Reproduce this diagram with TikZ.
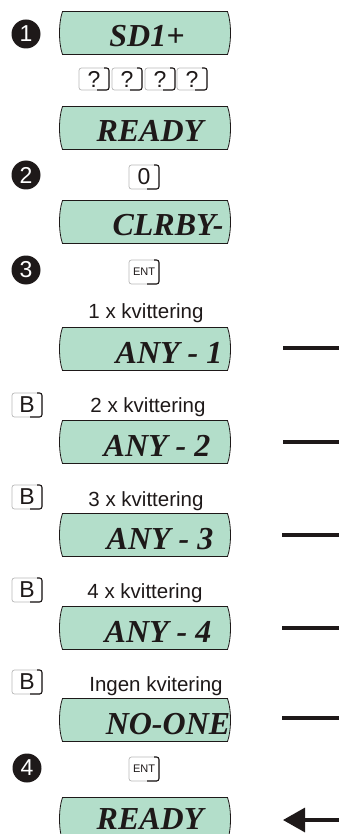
\documentclass[tikz,border=0pt]{standalone}
\usepackage{fontspec}
\setmainfont{Liberation Serif}
\setsansfont{Liberation Sans}
\usetikzlibrary{calc,arrows.meta}
\definecolor{lcd}{RGB}{179,222,202}
\definecolor{ink}{RGB}{30,25,25}
\begin{document}
\begin{tikzpicture}[x=1pt,y=-1pt,
  dispbox/.style={minimum width=172pt,minimum height=43pt,inner sep=0pt,outer sep=0pt},
  dispframe/.style={draw=ink,line width=0.8pt,fill=lcd},
  disptext/.style={anchor=base,inner sep=0pt,text=ink,font=\fontsize{32}{32}\selectfont\bfseries\itshape},
  keyb/.style={draw=gray!55,line width=0.7pt,rounded corners=2.5pt,fill=white,minimum width=30pt,minimum height=24pt,inner sep=0pt,outer sep=0pt,text=ink,font=\sffamily\fontsize{23}{23}\selectfont},
  enkey/.style={keyb,font=\sffamily\fontsize{11}{11}\selectfont},
  keyshade/.style={draw=ink,line width=1.1pt,rounded corners=2.5pt},
  bullet/.style={circle,fill=ink,minimum size=29pt,inner sep=0pt,text=white,font=\sffamily\fontsize{23}{23}\selectfont},
  lbl/.style={anchor=base,inner sep=0pt,text=ink,font=\sffamily\fontsize{20.5}{20.5}\selectfont},
  bar/.style={draw=ink,line width=3.2pt}]
\clip (0,0) rectangle (339,834);
\fill[white] (0,0) rectangle (339,834);
% display boxes
\node[dispbox] (d1) at (145,33) {};
\node[dispbox] (d2) at (145,128) {};
\node[dispbox] (d3) at (145,222) {};
\node[dispbox] (d4) at (145,349) {};
\node[dispbox] (d5) at (145,442) {};
\node[dispbox] (d6) at (145,535) {};
\node[dispbox] (d7) at (145,628) {};
\node[dispbox] (d8) at (145,720) {};
\node[dispbox] (d9) at (145,819) {};
\foreach \n in {d1,d2,d3,d4,d5,d6,d7,d8,d9}{
  \draw[dispframe] ($(\n.north west)+(3.5,0)$) -- ($(\n.north east)+(-3.5,0)$)
    .. controls ($(\n.north east)+(0.5,11)$) and ($(\n.south east)+(0.5,-11)$) .. ($(\n.south east)+(-3.5,0)$)
    -- ($(\n.south west)+(3.5,0)$)
    .. controls ($(\n.south west)+(-0.5,-11)$) and ($(\n.north west)+(-0.5,11)$) .. cycle;
}
% display texts
\node[disptext] (t1) at (147,47) {SD1+};
\node[disptext] (t2) at (150,142) {READY};
\node[disptext] (t3) at (168,236) {CLRBY-};
\node[disptext] (t4) at (169,363) {ANY - 1};
\node[disptext] (t5) at (157,456) {ANY - 2};
\node[disptext] (t6) at (160,549) {ANY - 3};
\node[disptext] (t7) at (158,642) {ANY - 4};
\node[disptext] (t8) at (168,734) {NO-ONE};
\node[disptext] (t9) at (150,829) {READY};
% bullets
\node[bullet] (n1) at (26,34) {1};
\node[bullet] (n2) at (26,175) {2};
\node[bullet] (n3) at (26,270) {3};
\node[bullet] (n4) at (27,768) {4};
% keys
\node[keyb,minimum height=22pt] (q1) at (94,79) {?};
\node[keyb,minimum height=22pt] (q2) at (127,79) {?};
\node[keyb,minimum height=22pt] (q3) at (160,79) {?};
\node[keyb,minimum height=22pt] (q4) at (192,79) {?};
\node[keyb] (k0) at (144,177) {0};
\node[enkey] (e1) at (144,272) {ENT};
\node[enkey] (e2) at (144,769) {ENT};
\node[keyb] (kb1) at (27,405) {B};
\node[keyb] (kb2) at (27,497) {B};
\node[keyb] (kb3) at (27,590) {B};
\node[keyb] (kb4) at (27,682) {B};
\foreach \n in {q1,q2,q3,q4,k0,e1,e2,kb1,kb2,kb3,kb4}{
  \draw[keyshade] ($(\n.north east)+(-5,0)$) -- (\n.north east) -- (\n.south east) -- ($(\n.south east)+(-12,0)$);
}
% labels
\node[lbl] (l1) at (146,318) {1 x kvittering};
\node[lbl] (l2) at (148,412) {2 x kvittering};
\node[lbl] (l3) at (146,506) {3 x kvittering};
\node[lbl] (l4) at (145,598) {4 x kvittering};
\node[lbl] (l5) at (156,691) {Ingen kvitering};
% bars
\coordinate (b1s) at (283,348); \coordinate (b1e) at (339,348);
\coordinate (b2s) at (283,442); \coordinate (b2e) at (339,442);
\coordinate (b3s) at (282,535); \coordinate (b3e) at (339,535);
\coordinate (b4s) at (282,628); \coordinate (b4e) at (339,628);
\coordinate (b5s) at (282,718); \coordinate (b5e) at (339,718);
\coordinate (as) at (341,820); \coordinate (ae) at (283,820);
\draw[bar] (b1s) -- (b1e);
\draw[bar] (b2s) -- (b2e);
\draw[bar] (b3s) -- (b3e);
\draw[bar] (b4s) -- (b4e);
\draw[bar] (b5s) -- (b5e);
\draw[bar,-{Triangle[length=22pt,width=24pt]}] (as) -- (ae);
\end{tikzpicture}
\end{document}
